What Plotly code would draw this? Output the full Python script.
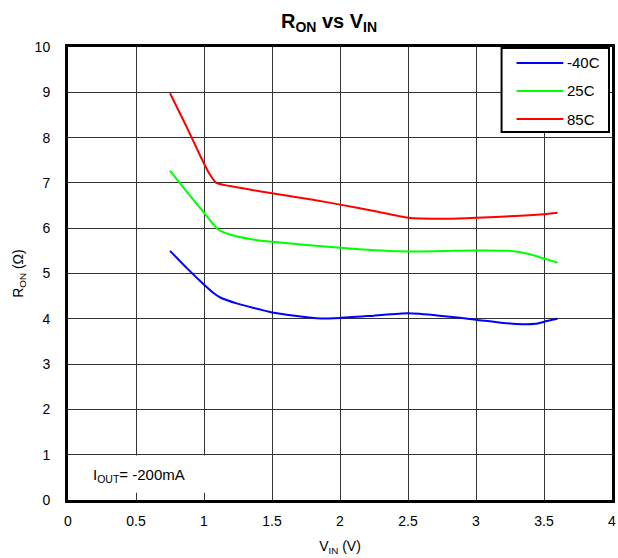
import plotly.graph_objects as go

# Data
vin_m40 = [0.75, 0.87, 0.995, 1.07, 1.12, 1.24, 1.5, 1.83, 2.0, 2.25, 2.5, 2.73, 3.0, 3.2, 3.34, 3.44, 3.52, 3.6]
ron_m40 = [5.50, 5.13, 4.77, 4.57, 4.47, 4.34, 4.14, 4.01, 4.02, 4.07, 4.12, 4.07, 3.98, 3.91, 3.88, 3.89, 3.95, 4.00]

vin_25 = [0.75, 0.87, 0.995, 1.06, 1.105, 1.19, 1.34, 1.5, 2.0, 2.44, 2.7, 3.0, 3.245, 3.39, 3.5, 3.6]
ron_25 = [7.27, 6.82, 6.36, 6.12, 5.97, 5.86, 5.76, 5.70, 5.57, 5.49, 5.49, 5.51, 5.50, 5.43, 5.33, 5.24]

vin_85 = [0.75, 0.87, 0.98, 1.04, 1.09, 1.19, 1.5, 1.8, 2.0, 2.25, 2.5, 2.8, 3.0, 3.29, 3.5, 3.6]
ron_85 = [8.98, 8.25, 7.55, 7.2, 7.0, 6.93, 6.77, 6.63, 6.52, 6.38, 6.23, 6.21, 6.23, 6.27, 6.31, 6.34]

series_names = ["-40C", "25C", "85C"]
series_colors = ["#0000FF", "#00FF00", "#FF0000"]

x_ticks = [0, 0.5, 1, 1.5, 2, 2.5, 3, 3.5, 4]
y_ticks = list(range(0, 11))

FONT = "Arial, Liberation Sans, sans-serif"

fig = go.Figure()
for name, xs, ys, col in zip(series_names, [vin_m40, vin_25, vin_85], [ron_m40, ron_25, ron_85], series_colors):
    fig.add_trace(go.Scatter(x=xs, y=ys, name=name, mode="lines", showlegend=False,
                             line=dict(color=col, width=2, shape="spline", smoothing=0.5)))

# I_OUT label box
fig.add_shape(type="rect", xref="x", yref="y", x0=0.03, x1=1.2, y0=0.16, y1=0.98,
              fillcolor="white", line=dict(width=0), layer="above")
fig.add_annotation(x=0.17, y=0.55, xref="x", yref="y", xanchor="left", yanchor="middle",
                   text="I<sub>OUT</sub>= -200mA", showarrow=False,
                   font=dict(family=FONT, size=15, color="black"))

# Legend box (drawn in paper coordinates)
fig.add_shape(type="rect", xref="paper", yref="paper", x0=0.797, x1=0.9945, y0=0.8124, y1=0.998,
              fillcolor="white", line=dict(color="black", width=2), layer="above")
row_y = [0.9647, 0.9029, 0.841]
for name, col, ry in zip(series_names, series_colors, row_y):
    fig.add_shape(type="line", xref="paper", yref="paper", x0=0.8245, x1=0.9104, y0=ry, y1=ry,
                  line=dict(color=col, width=2), layer="above")
    fig.add_annotation(x=0.913, y=ry, xref="paper", yref="paper", xanchor="left", yanchor="middle",
                       text=name, showarrow=False, font=dict(family=FONT, size=15, color="black"))

fig.update_layout(
    width=618, height=558,
    margin=dict(l=68, r=3, t=47, b=58),
    paper_bgcolor="white", plot_bgcolor="white",
    font=dict(family=FONT, size=14, color="black"),
    title=dict(text="<b>R<sub>ON</sub> vs V<sub>IN</sub></b>", x=329/618, xanchor="center",
               y=1 - 21/558, yanchor="middle", font=dict(family=FONT, size=20, color="black")),
    showlegend=False,
)
fig.update_xaxes(range=[0, 4], tickvals=x_ticks, ticktext=[str(v) for v in x_ticks],
                 showgrid=True, gridcolor="#333333", gridwidth=1,
                 showline=True, linecolor="black", linewidth=3, mirror=True,
                 ticks="", ticklabelstandoff=6, zeroline=False,
                 title=dict(text="V<sub>IN</sub> (V)", standoff=14, font=dict(size=14)))
fig.update_yaxes(range=[0, 10], tickvals=y_ticks, ticktext=[str(v) for v in y_ticks],
                 showgrid=True, gridcolor="#333333", gridwidth=1,
                 showline=True, linecolor="black", linewidth=3, mirror=True,
                 ticks="", ticklabelstandoff=12, zeroline=False,
                 title=dict(text="R<sub>ON</sub> (Ω)", standoff=8, font=dict(size=14)))

fig.write_html("out.html")
